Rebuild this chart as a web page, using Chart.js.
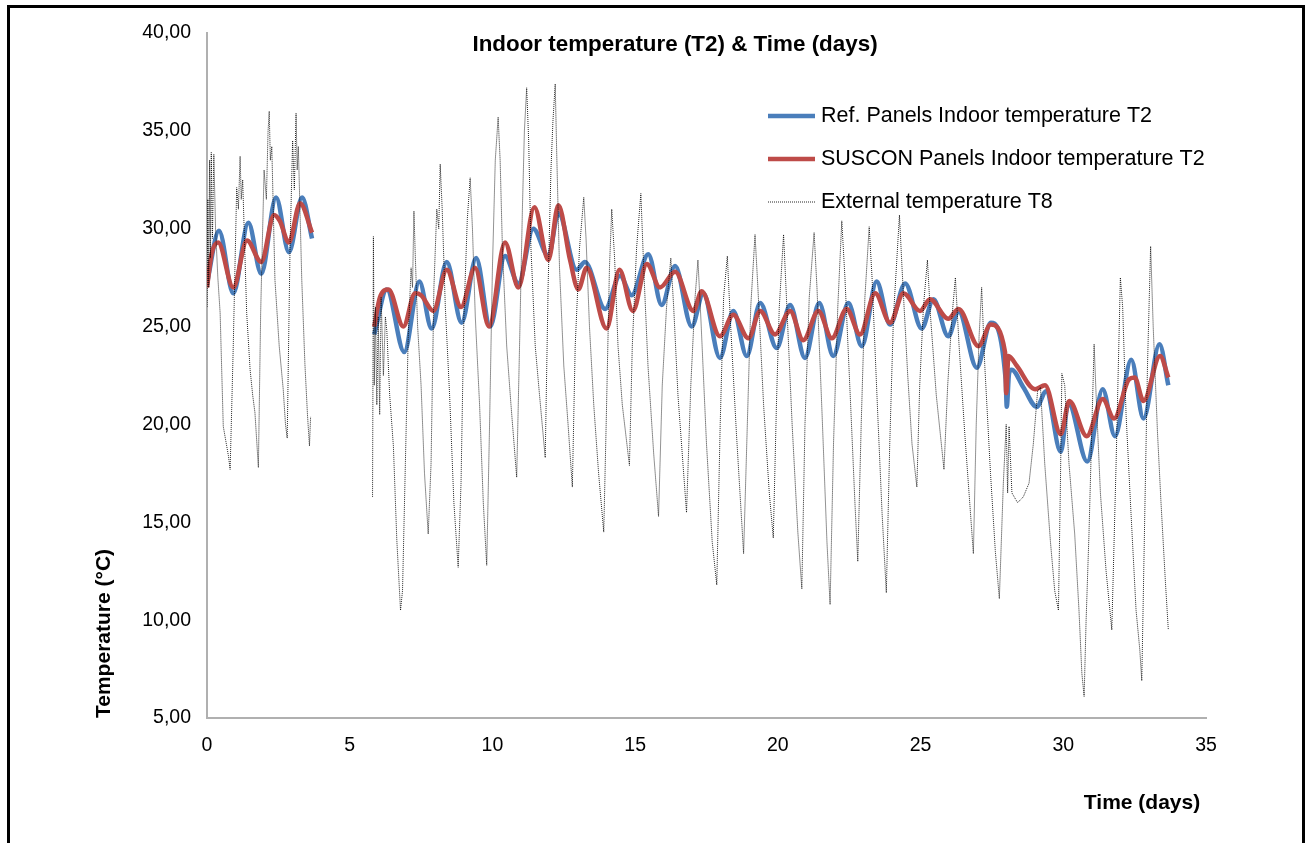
<!DOCTYPE html>
<html>
<head>
<meta charset="utf-8">
<script src="https://cdn.jsdelivr.net/npm/chart.js@4.4.1/dist/chart.umd.min.js"></script>
<style>
html, body { margin: 0; padding: 0; background: #fff; overflow: hidden; }
#wrap { position: relative; width: 1306px; height: 843px; }
#frame { position: absolute; left: 7px; top: 5px; width: 1292px; height: 900px; border: 3px solid #000; pointer-events: none; }
canvas { position: absolute; left: 0; top: 0; }
</style>
</head>
<body>
<div id="wrap">
  <canvas id="chart" width="1306" height="843"></canvas>
  <div id="frame"></div>
</div>
<script>
// Ref. panels indoor temperature T2 (days / °C), null = gap in the record
const refDays = [0.00, 0.42, 0.92, 1.45, 1.90, 2.42, 2.87, 3.33, 3.68, 4.50,
  5.86, 6.30, 6.91, 7.44, 7.87, 8.40, 8.92, 9.43, 9.92, 10.44, 10.91, 11.43, 11.96, 12.31,
  12.95, 13.24, 13.95, 14.47, 14.88, 15.46, 15.93, 16.40, 16.98, 17.39, 17.97, 18.44, 18.91,
  19.38, 19.96, 20.43, 20.95, 21.45, 21.94, 22.47, 22.94, 23.46, 23.93, 24.46, 25.04, 25.45,
  25.97, 26.33, 26.97, 27.46, 27.98, 28.02, 28.10, 28.19, 28.60, 29.07, 29.40, 29.91, 30.18,
  30.84, 31.38, 31.81, 32.38, 32.81, 33.37, 33.68];
const refTemp = [27.2, 29.9, 26.7, 30.3, 27.7, 31.6, 28.8, 31.6, 29.5, null,
  24.6, 26.9, 23.7, 27.3, 24.9, 28.3, 25.2, 28.5, 25.0, 28.6, 27.2, 30.0, 28.6, 30.8,
  27.9, 28.3, 25.9, 27.6, 26.6, 28.7, 26.1, 28.1, 25.0, 26.7, 23.4, 25.8, 23.5,
  26.2, 23.9, 26.1, 23.4, 26.2, 23.5, 26.2, 24.0, 27.3, 25.1, 27.2, 24.9, 26.4,
  24.5, 25.8, 22.9, 25.2, 22.3, 20.9, 22.6, 22.8, 21.9, 20.9, 21.7, 18.6, 21.1,
  18.1, 21.8, 19.4, 23.3, 20.3, 24.1, 22.0];

// SUSCON panels indoor temperature T2
const susDays = [0.00, 0.16, 0.39, 0.92, 1.40, 1.90, 2.35, 2.55, 2.87, 3.26, 3.68, 4.50,
  5.86, 6.06, 6.36, 6.88, 7.29, 7.50, 7.93, 8.40, 8.90, 9.39, 9.88, 10.44, 10.91, 11.47,
  11.96, 12.31, 12.72, 13.01, 13.30, 14.00, 14.45, 14.92, 15.41, 15.87, 16.40, 17.04, 17.33,
  17.97, 18.44, 18.97, 19.38, 19.90, 20.43, 20.89, 21.42, 21.89, 22.41, 22.88, 23.41, 23.93,
  24.40, 24.98, 25.33, 25.97, 26.33, 27.03, 27.46, 27.96, 28.00, 28.08, 28.37, 29.01, 29.36,
  29.91, 30.21, 30.82, 31.38, 31.78, 32.30, 32.50, 32.81, 33.39, 33.68];
const susTemp = [27.0, 28.7, 29.3, 27.0, 29.4, 28.3, 30.7, 30.4, 29.3, 31.3, 29.8, null,
  25.0, 26.5, 26.9, 25.0, 26.7, 26.6, 25.8, 27.9, 26.0, 28.0, 25.0, 29.3, 27.0, 31.1,
  28.4, 31.2, 28.4, 26.9, 28.0, 24.9, 27.9, 25.8, 28.2, 27.0, 27.8, 25.8, 26.8,
  24.5, 25.6, 24.4, 25.8, 24.6, 25.8, 24.3, 25.8, 24.4, 25.9, 24.6, 26.7, 25.2,
  26.7, 25.8, 26.4, 25.4, 25.9, 24.0, 25.1, 23.7, 21.6, 23.5, 23.0, 21.8, 22.0,
  19.5, 21.2, 19.4, 21.3, 20.3, 22.3, 22.4, 21.2, 23.5, 22.4];

// External temperature T8
const extDays = [0.00, 0.03, 0.06, 0.09, 0.12, 0.15, 0.19, 0.24, 0.30, 0.38, 0.46, 0.57, 0.69,
  0.75, 0.81, 0.86, 0.92, 1.04, 1.10, 1.16, 1.20, 1.25, 1.39, 1.51, 1.60, 1.68, 1.80, 1.88,
  2.00, 2.08, 2.14, 2.18, 2.22, 2.27, 2.38, 2.53, 2.67, 2.75, 2.81, 2.91, 3.00, 3.06, 3.12,
  3.16, 3.20, 3.32, 3.43, 3.52, 3.59, 3.63, 4.50,
  5.80, 5.83, 5.86, 5.90, 5.95, 6.00, 6.05, 6.10, 6.18, 6.25, 6.30, 6.40, 6.53, 6.65, 6.78,
  6.85, 6.95, 7.05, 7.15, 7.20, 7.25, 7.30, 7.38, 7.50, 7.62, 7.75, 7.85, 7.95, 8.05, 8.12,
  8.17, 8.24, 8.35, 8.50, 8.65, 8.80, 8.90, 9.00, 9.12, 9.22, 9.30, 9.40, 9.55, 9.68, 9.80,
  9.90, 10.00, 10.10, 10.20, 10.27, 10.35, 10.50, 10.65, 10.85, 10.95, 11.05, 11.12, 11.20,
  11.27, 11.35, 11.50, 11.65, 11.85, 11.95, 12.05, 12.12, 12.20, 12.25, 12.35, 12.50, 12.65,
  12.80, 12.90, 13.05, 13.20, 13.28, 13.40, 13.55, 13.72, 13.90, 14.00, 14.10, 14.18, 14.28,
  14.40, 14.55, 14.80, 14.90, 15.05, 15.20, 15.30, 15.45, 15.65, 15.82, 15.95, 16.10, 16.25,
  16.35, 16.50, 16.80, 16.95, 17.10, 17.20, 17.30, 17.50, 17.70, 17.86, 17.98, 18.10, 18.23,
  18.33, 18.55, 18.80, 18.95, 19.05, 19.20, 19.30, 19.50, 19.70, 19.84, 19.95, 20.05, 20.20,
  20.30, 20.50, 20.70, 20.84, 20.95, 21.10, 21.27, 21.37, 21.55, 21.72, 21.83, 21.95, 22.10,
  22.24, 22.35, 22.55, 22.70, 22.80, 22.92, 23.05, 23.20, 23.30, 23.50, 23.65, 23.80, 23.92,
  24.05, 24.26, 24.35, 24.55, 24.70, 24.87, 24.97, 25.10, 25.24, 25.35, 25.55, 25.82, 25.95,
  26.10, 26.22, 26.35, 26.55, 26.85, 26.95, 27.05, 27.14, 27.25, 27.45, 27.62, 27.76, 27.90,
  28.00, 28.05, 28.10, 28.20, 28.40, 28.60, 28.80, 28.95, 29.10, 29.20, 29.35, 29.55, 29.70,
  29.83, 29.90, 29.95, 30.05, 30.20, 30.40, 30.55, 30.65, 30.73, 30.80, 30.90, 31.08, 31.15,
  31.30, 31.50, 31.70, 31.85, 32.00, 32.08, 32.20, 32.35, 32.55, 32.68, 32.75, 32.85, 32.95,
  33.06, 33.15, 33.30, 33.42, 33.58, 33.68];
const extTemp = [26.0, 31.5, 27.0, 33.5, 28.5, 33.9, 29.5, 33.8, 30.0, 27.5, 25.7, 19.9, 18.9,
  18.4, 17.7, 20.5, 24.0, 32.1, 31.0, 33.7, 31.5, 32.5, 25.7, 22.8, 21.5, 20.6, 17.8, 25.7,
  33.0, 31.5, 35.0, 36.0, 33.5, 34.2, 27.4, 24.0, 21.8, 20.0, 19.3, 29.1, 34.5, 32.0, 35.9,
  33.0, 34.2, 27.4, 23.1, 20.5, 18.9, 20.4, null,
  16.3, 29.6, 22.0, 26.0, 21.0, 25.5, 20.5, 26.5, 22.5, 25.5, 24.8, 21.5, 18.9, 14.1, 10.5,
  11.5, 18.0, 24.5, 28.0, 27.0, 30.9, 28.5, 25.0, 22.0, 17.5, 14.4, 18.0, 27.0, 31.0, 30.0,
  33.3, 31.0, 26.0, 21.5, 16.0, 12.7, 17.0, 25.5, 30.5, 32.6, 30.0, 25.5, 21.0, 16.0, 12.8,
  20.0, 28.0, 33.5, 35.7, 33.5, 29.0, 24.0, 21.0, 17.3, 24.0, 31.0, 35.0, 37.2,
  34.5, 29.0, 24.0, 21.5, 18.3, 27.0, 33.0, 35.5, 37.4, 34.0, 28.0, 23.0, 20.0,
  16.8, 24.0, 29.0, 31.6, 29.5, 25.0, 21.0, 17.5, 14.5, 21.0, 28.0, 31.0, 28.5,
  24.0, 21.0, 17.9, 24.0, 29.0, 31.8, 28.0, 23.0, 18.5, 15.3, 22.0, 26.0, 28.5,
  26.0, 21.5, 15.5, 22.0, 26.5, 28.4, 25.5, 19.0, 14.0, 11.8, 20.0, 26.5, 28.6,
  25.5, 19.5, 13.4, 21.0, 26.0, 29.7, 27.0, 21.0, 16.5, 14.2, 21.0, 26.0, 29.7,
  26.5, 20.0, 14.5, 11.6, 20.0, 26.5, 29.8, 27.0, 20.5, 14.0, 10.8, 19.0, 26.0,
  30.4, 27.5, 21.0, 16.0, 13.0, 20.0, 26.5, 30.1, 27.5, 20.5, 15.5, 11.4, 19.0,
  25.5, 30.7, 28.0, 22.5, 19.0, 16.8, 22.0, 26.0, 28.4, 25.5, 21.5, 17.7, 22.0,
  25.5, 27.5, 24.0, 19.5, 13.4, 20.0, 24.5, 27.0, 23.0, 17.5, 13.5, 11.1, 17.0,
  20.0, 16.5, 19.9, 16.5, 16.0, 16.3, 17.0, 19.0, 21.7, 21.9, 18.0, 14.0, 11.5,
  10.5, 17.0, 22.6, 22.0, 18.0, 14.4, 10.5, 7.3, 6.1, 10.0, 14.4, 24.1, 21.5,
  16.5, 12.5, 9.5, 18.0, 27.5, 26.0, 20.5, 16.1, 10.5, 8.5, 6.9, 15.0, 23.0,
  29.1, 25.0, 19.6, 16.1, 11.9, 9.5];

const xTicks = [0, 5, 10, 15, 20, 25, 30, 35];
const yTicks = [5, 10, 15, 20, 25, 30, 35, 40];

const FONT = '"Liberation Sans", Arial, sans-serif';

function toPoints(days, temps) {
  return days.map((d, i) => ({ x: d, y: temps[i] }));
}

// Chart title + legend drawn inside the plot, like the original sheet
const overlayPlugin = {
  id: 'overlay',
  afterDraw(chart) {
    const ctx = chart.ctx;
    ctx.save();
    const title = 'Indoor temperature (T2) & Time (days)';
    ctx.font = 'bold 20px ' + FONT;
    const w = ctx.measureText(title).width;
    const size = 20 * 405 / w;
    ctx.font = 'bold ' + size.toFixed(1) + 'px ' + FONT;
    ctx.fillStyle = '#000';
    ctx.textAlign = 'center';
    ctx.textBaseline = 'middle';
    ctx.fillText(title, 675, 45);

    const rows = [116, 159, 202];
    ctx.font = '21.5px ' + FONT;
    ctx.textAlign = 'left';
    chart.data.datasets.forEach((ds, i) => {
      const y = rows[i];
      ctx.beginPath();
      ctx.strokeStyle = ds.borderColor;
      ctx.lineWidth = ds.borderWidth;
      ctx.setLineDash(ds.borderDash || []);
      ctx.moveTo(768, y);
      ctx.lineTo(815, y);
      ctx.stroke();
      ctx.setLineDash([]);
      ctx.fillStyle = '#000';
      ctx.fillText(ds.label, 821, y);
    });
    ctx.restore();
  }
};

new Chart(document.getElementById('chart'), {
  type: 'line',
  data: {
    datasets: [
      {
        label: 'Ref. Panels Indoor temperature T2',
        data: toPoints(refDays, refTemp),
        borderColor: '#4a7ebb',
        borderWidth: 4.5,
        pointRadius: 0,
        cubicInterpolationMode: 'monotone',
        order: 2
      },
      {
        label: 'SUSCON Panels Indoor temperature T2',
        data: toPoints(susDays, susTemp),
        borderColor: '#be4b48',
        borderWidth: 4.5,
        pointRadius: 0,
        cubicInterpolationMode: 'monotone',
        order: 1
      },
      {
        label: 'External temperature T8',
        data: toPoints(extDays, extTemp),
        borderColor: 'rgba(0,0,0,0.85)',
        borderWidth: 1,
        borderDash: [1, 1],
        pointRadius: 0,
        tension: 0,
        order: 0
      }
    ]
  },
  options: {
    responsive: false,
    animation: false,
    devicePixelRatio: 1,
    layout: { padding: { left: 0, right: 100, top: 33, bottom: 0 } },
    plugins: { legend: { display: false }, tooltip: { enabled: false } },
    scales: {
      x: {
        type: 'linear',
        min: 0,
        max: 35,
        afterBuildTicks(scale) { scale.ticks = xTicks.map(v => ({ value: v })); },
        afterFit(scale) { scale.height = 125; },
        ticks: { color: '#000', padding: 16, font: { family: FONT, size: 19.5 } },
        grid: { display: false, drawTicks: false },
        border: { color: '#b0b0b0', width: 2 },
        title: {
          display: true, text: 'Time (days) ', align: 'end', color: '#000', padding: 27,
          font: { family: FONT, size: 21, weight: 'bold' }
        }
      },
      y: {
        min: 5,
        max: 40,
        afterBuildTicks(scale) { scale.ticks = yTicks.map(v => ({ value: v })); },
        afterFit(scale) { scale.width = 207; },
        ticks: {
          color: '#000', padding: 16, font: { family: FONT, size: 19.5 },
          callback: v => v.toFixed(2).replace('.', ',')
        },
        grid: { display: false, drawTicks: false },
        border: { color: '#b0b0b0', width: 2 },
        title: {
          display: true, text: 'Temperature (°C)', align: 'start', color: '#000', padding: 92,
          font: { family: FONT, size: 21, weight: 'bold' }
        }
      }
    }
  },
  plugins: [overlayPlugin]
});
</script>
</body>
</html>
